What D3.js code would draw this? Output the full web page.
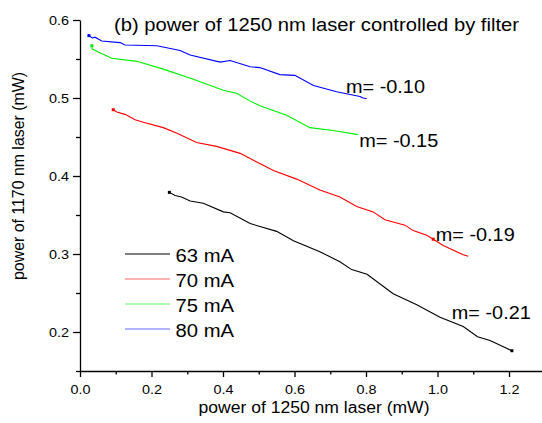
<!DOCTYPE html>
<html>
<head>
<meta charset="utf-8">
<script src="https://cdn.jsdelivr.net/npm/d3@7"></script>
<style>
  body { margin: 0; background: #fff; }
  svg { display: block; font-family: "Liberation Sans", Arial, sans-serif; }
</style>
</head>
<body>
<svg id="chart" width="542" height="423"></svg>
<script>
// Series: [power of 1250 nm, power of 1170 nm] in mW
const s63 = [
  [0.250, 0.379], [0.266, 0.375], [0.284, 0.373], [0.308, 0.368], [0.345, 0.365],
  [0.401, 0.354], [0.420, 0.353], [0.476, 0.339], [0.550, 0.329], [0.597, 0.317],
  [0.671, 0.303], [0.727, 0.290], [0.760, 0.280], [0.803, 0.274], [0.876, 0.249],
  [0.942, 0.235], [1.007, 0.219], [1.072, 0.207], [1.112, 0.194], [1.147, 0.189],
  [1.208, 0.176]
];
const s70 = [
  [0.093, 0.485], [0.103, 0.482], [0.126, 0.479], [0.154, 0.472], [0.177, 0.469],
  [0.233, 0.462], [0.270, 0.455], [0.326, 0.443], [0.382, 0.438], [0.448, 0.429],
  [0.503, 0.416], [0.541, 0.407], [0.606, 0.396], [0.671, 0.382], [0.727, 0.373],
  [0.774, 0.361], [0.820, 0.354], [0.853, 0.344], [0.909, 0.337], [0.932, 0.330],
  [0.970, 0.324], [0.988, 0.319], [1.016, 0.311], [1.049, 0.304], [1.072, 0.299],
  [1.086, 0.297]
];
const s75 = [
  [0.033, 0.567], [0.034, 0.563], [0.051, 0.559], [0.089, 0.551], [0.159, 0.547],
  [0.233, 0.537], [0.317, 0.524], [0.401, 0.510], [0.438, 0.506], [0.476, 0.496],
  [0.503, 0.490], [0.578, 0.478], [0.643, 0.462], [0.713, 0.458], [0.778, 0.453]
];
const s80 = [
  [0.025, 0.580], [0.034, 0.577], [0.042, 0.578], [0.061, 0.573], [0.112, 0.571],
  [0.126, 0.568], [0.215, 0.567], [0.280, 0.561], [0.308, 0.555], [0.392, 0.546],
  [0.420, 0.548], [0.476, 0.540], [0.503, 0.539], [0.559, 0.530], [0.601, 0.529],
  [0.653, 0.516], [0.718, 0.508], [0.783, 0.502], [0.792, 0.500], [0.802, 0.499]
];

const seriesNames = ["63 mA", "70 mA", "75 mA", "80 mA"];
const seriesData = [s63, s70, s75, s80];
const seriesColors = ["#000000", "#ff0000", "#00f000", "#0000ff"];

const slopeLabels = ["m= -0.21", "m= -0.19", "m= -0.15", "m= -0.10"];

const xTicks = [0.0, 0.2, 0.4, 0.6, 0.8, 1.0, 1.2];
const yTicks = [0.2, 0.3, 0.4, 0.5, 0.6];

const svg = d3.select("#chart");

const x = d3.scaleLinear().domain([0, 1.3]).range([80, 544.75]);
const y = d3.scaleLinear().domain([0.15, 0.6]).range([371, 20]);

// the original text is a bit wider than the font, so stretch it a little
const styleTicks = g => g.selectAll("text")
  .attr("font-size", 13)
  .attr("font-family", "Liberation Sans, Arial")
  .attr("fill", "#000")
  .attr("textLength", 20)
  .attr("lengthAdjust", "spacingAndGlyphs");

// x axis (major + minor ticks)
svg.append("g")
  .attr("transform", `translate(0,${y(0.15)})`)
  .call(d3.axisBottom(x).tickValues(d3.range(0.1, 1.3, 0.2)).tickSize(3.5).tickFormat(""))
  .call(g => g.select(".domain").remove());
svg.append("g")
  .attr("transform", `translate(0,${y(0.15)})`)
  .call(d3.axisBottom(x).tickValues(xTicks).tickSize(6).tickSizeOuter(0).tickPadding(8).tickFormat(d3.format(".1f")))
  .call(styleTicks);

// y axis (major + minor ticks)
svg.append("g")
  .attr("transform", `translate(${x(0)},0)`)
  .call(d3.axisLeft(y).tickValues([0.15, 0.25, 0.35, 0.45, 0.55]).tickSize(4).tickFormat(""))
  .call(g => g.select(".domain").remove());
svg.append("g")
  .attr("transform", `translate(${x(0)},0)`)
  .call(d3.axisLeft(y).tickValues(yTicks).tickSize(7).tickSizeOuter(0).tickPadding(4).tickFormat(d3.format(".1f")))
  .call(styleTicks);

svg.selectAll(".domain, .tick line").attr("stroke", "#000").attr("stroke-width", 1.3);

// curves
const line = d3.line().x(d => x(d[0])).y(d => y(d[1]));
seriesData.forEach((s, i) => {
  svg.append("path")
    .datum(s)
    .attr("d", line)
    .attr("fill", "none")
    .attr("stroke", seriesColors[i])
    .attr("stroke-width", 1.1);
  // small end marks like the original
  svg.append("rect")
    .attr("x", x(s[0][0]) - 1.5).attr("y", y(s[0][1]) - 1.5)
    .attr("width", 3).attr("height", 3)
    .attr("fill", seriesColors[i]);
});
svg.append("rect")
  .attr("x", x(s63[s63.length - 1][0]) - 1.5).attr("y", y(s63[s63.length - 1][1]) - 1.5)
  .attr("width", 3).attr("height", 3).attr("fill", "#000");
svg.append("rect")
  .attr("x", x(s70[21][0]) - 1.5).attr("y", y(s70[21][1]) - 1.5)
  .attr("width", 3).attr("height", 3).attr("fill", "#ff0000");

// slope annotations, anchored in data units
const slopePos = [[1.040, 0.217], [0.995, 0.317], [0.781, 0.437], [0.744, 0.506]];
svg.selectAll("text.slope")
  .data(slopeLabels)
  .join("text")
  .attr("class", "slope")
  .attr("x", (d, i) => x(slopePos[i][0]))
  .attr("y", (d, i) => y(slopePos[i][1]))
  .attr("font-size", 18)
  .attr("textLength", 79)
  .attr("lengthAdjust", "spacingAndGlyphs")
  .text(d => d);

// title
svg.append("text")
  .attr("x", 114).attr("y", 30.5)
  .attr("font-size", 18)
  .attr("textLength", 405)
  .attr("lengthAdjust", "spacingAndGlyphs")
  .text("(b) power of 1250 nm laser controlled by filter");

// axis titles
svg.append("text")
  .attr("x", 314).attr("y", 413)
  .attr("text-anchor", "middle")
  .attr("font-size", 16)
  .attr("textLength", 231)
  .attr("lengthAdjust", "spacingAndGlyphs")
  .text("power of 1250 nm laser (mW)");
svg.append("text")
  .attr("transform", "translate(24,176) rotate(-90)")
  .attr("text-anchor", "middle")
  .attr("font-size", 16)
  .attr("textLength", 208)
  .attr("lengthAdjust", "spacingAndGlyphs")
  .text("power of 1170 nm laser (mW)");

// legend
const legend = svg.append("g").attr("transform", "translate(125,254)");
seriesNames.forEach((name, i) => {
  legend.append("line")
    .attr("x1", 0).attr("x2", 45)
    .attr("y1", i * 25).attr("y2", i * 25)
    .attr("stroke", seriesColors[i])
    .attr("stroke-opacity", i === 0 ? 1 : 0.6)
    .attr("stroke-width", 1.2);
  legend.append("text")
    .attr("x", 50.5).attr("y", i * 25 + 7.5)
    .attr("font-size", 18)
    .attr("textLength", 58.5)
    .attr("lengthAdjust", "spacingAndGlyphs")
    .text(name);
});
</script>
</body>
</html>
